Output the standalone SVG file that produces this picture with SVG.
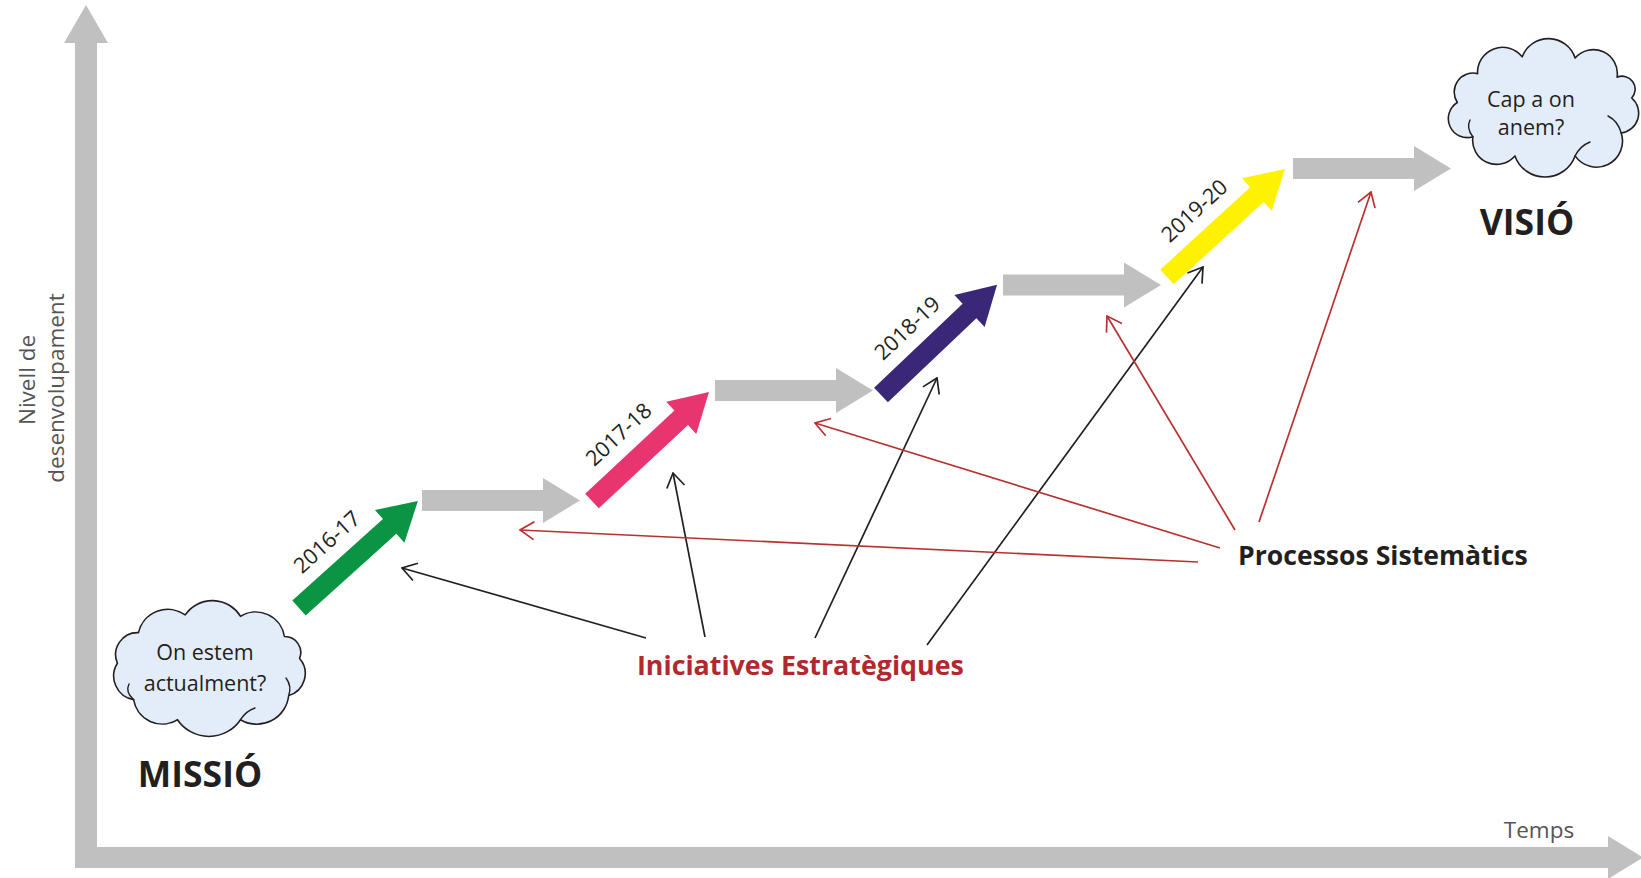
<svg xmlns="http://www.w3.org/2000/svg" width="1641" height="878" viewBox="0 0 1641 878">
<style>
  text { font-family: "Open Sans", "DejaVu Sans", sans-serif; }
  .axis { fill: #c0c0c0; }
  .axislbl { fill: #555555; font-size: 22.5px; }
  .step { fill: #c0c0c0; }
  .year { fill: #231f20; font-size: 21.5px; text-anchor: middle; }
  .cloud { fill: #e3edf9; stroke: #231f20; stroke-width: 1.6; stroke-linejoin: round; }
  .curl { fill: none; stroke: #231f20; stroke-width: 1.4; stroke-linecap: round; }
  .ctext { fill: #231f20; font-size: 21.5px; text-anchor: middle; }
  .big { fill: #231f20; font-size: 35.5px; font-weight: 700; text-anchor: middle; }
  .lblred { fill: #b2282e; font-size: 26.8px; font-weight: 700; }
  .lblblk { fill: #231f20; font-size: 26.6px; font-weight: 700; }
  .cblack { stroke: #231f20; stroke-width: 1.7; fill: none; marker-end: url(#hb); }
  .cred { stroke: #b8312f; stroke-width: 1.7; fill: none; marker-end: url(#hr); }
</style>
<defs>
  <path id="diag" d="M0,-10 L122,-10 L122,-22 L160,0 L122,22 L122,10 L0,10 Z"/>
  <path id="hor" d="M0,-10.5 L121,-10.5 L121,-22.5 L158,0 L121,22.5 L121,10.5 L0,10.5 Z"/>
  <marker id="hb" viewBox="0 0 16 20" refX="15" refY="10" markerWidth="16" markerHeight="20" markerUnits="userSpaceOnUse" orient="auto">
    <path d="M1,1 L15,10 L1,19" fill="none" stroke="#231f20" stroke-width="1.7"/>
  </marker>
  <marker id="hr" viewBox="0 0 16 20" refX="15" refY="10" markerWidth="16" markerHeight="20" markerUnits="userSpaceOnUse" orient="auto">
    <path d="M1,1 L15,10 L1,19" fill="none" stroke="#b8312f" stroke-width="1.7"/>
  </marker>
</defs>
<rect width="1641" height="878" fill="#ffffff"/>

<g id="axes">
  <path class="axis" d="M86,5 L108,43 L97,43 L97,847 L1608,847 L1608,836 L1643,857.5 L1608,879 L1608,868 L75,868 L75,43 L64,43 Z"/>
  <text class="axislbl" text-anchor="middle" transform="translate(35,380) rotate(-90)">Nivell de</text>
  <text class="axislbl" text-anchor="middle" transform="translate(64,388) rotate(-90)">desenvolupament</text>
  <text class="axislbl" x="1539" y="838" text-anchor="middle" font-size="26.5">Temps</text>
</g>

<g id="node-missio">
  <path class="cloud" d="M299.6,658.4 A23,23 0 0 1 288.7,695.5 A32,32 0 0 1 240.5,719.7 A38,38 0 0 1 177.5,719.7 A29,29 0 0 1 133.6,699.6 A24,24 0 0 1 117.4,663.2 A22,22 0 0 1 138.5,632.6 A30,30 0 0 1 185.2,614.9 A33,33 0 0 1 240.5,616.3 A29,29 0 0 1 284.4,636.5 A16,16 0 0 1 299.6,658.4 Z"/>
  <path class="curl" d="M288.7,695.5 Q292,686 286,678"/>
  <path class="curl" d="M133.6,699.6 Q125,692 129,684"/>
  <path class="curl" d="M240.5,719.7 Q246,711 255,708"/>
  <text class="ctext" x="205" y="660">On estem</text>
  <text class="ctext" x="205" y="691">actualment?</text>
  <text class="big" x="200" y="787">MISSIÓ</text>
</g>

<g id="node-visio">
  <path class="cloud" d="M1631.7,98 A20,20 0 0 1 1621.2,133 A26,26 0 0 1 1575.1,155.9 A32,32 0 0 1 1514.9,155.9 A24,24 0 0 1 1472.9,136.8 A19,19 0 0 1 1457.3,102.5 A19,19 0 0 1 1477.6,73.6 A25,25 0 0 1 1522.2,56.8 A28,28 0 0 1 1575.1,58.1 A24,24 0 0 1 1617.1,77.2 A13,13 0 0 1 1631.7,98 Z"/>
  <path class="curl" d="M1621.2,133 Q1618,121 1608,116"/>
  <path class="curl" d="M1472.9,136.8 Q1466,128 1470,120"/>
  <path class="curl" d="M1575.1,155.9 Q1580,146 1590,142"/>
  <text class="ctext" x="1531" y="107">Cap a on</text>
  <text class="ctext" x="1531" y="135">anem?</text>
  <text class="big" x="1527" y="235">VISIÓ</text>
</g>

<g id="step-2016">
  <g transform="translate(299,608) rotate(-42)">
    <use href="#diag" fill="#0a9443"/>
    <text class="year" x="65" y="-23">2016-17</text>
  </g>
</g>
<g id="gap-1"><use href="#hor" class="step" x="422" y="500.5"/></g>

<g id="step-2017">
  <g transform="translate(592,501) rotate(-43)">
    <use href="#diag" fill="#e8346f"/>
    <text class="year" x="65" y="-23">2017-18</text>
  </g>
</g>
<g id="gap-2"><use href="#hor" class="step" x="715" y="390.5"/></g>

<g id="step-2018">
  <g transform="translate(881,395) rotate(-43.5)">
    <use href="#diag" fill="#3b2777"/>
    <text class="year" x="65" y="-23">2018-19</text>
  </g>
</g>
<g id="gap-3"><use href="#hor" class="step" x="1003" y="285"/></g>

<g id="step-2019">
  <g transform="translate(1167,277) rotate(-42.5)">
    <use href="#diag" fill="#fff200"/>
    <text class="year" x="65" y="-23">2019-20</text>
  </g>
</g>
<g id="gap-4"><use href="#hor" class="step" x="1293" y="168.5"/></g>

<g id="node-iniciatives">
  <text class="lblred" x="637" y="675">Iniciatives Estratègiques</text>
</g>
<g id="node-processos">
  <text class="lblblk" x="1238" y="565">Processos Sistemàtics</text>
</g>

<g id="connectors">
  <line class="cblack" x1="646" y1="638" x2="402" y2="568"/>
  <line class="cblack" x1="705" y1="637" x2="673" y2="473"/>
  <line class="cblack" x1="815" y1="638" x2="937" y2="378"/>
  <line class="cblack" x1="927" y1="645" x2="1203" y2="267"/>
  <line class="cred" x1="1198" y1="562" x2="520" y2="530"/>
  <line class="cred" x1="1220" y1="548" x2="815" y2="423"/>
  <line class="cred" x1="1235" y1="530" x2="1107" y2="316"/>
  <line class="cred" x1="1259" y1="522" x2="1371" y2="192"/>
</g>
</svg>
